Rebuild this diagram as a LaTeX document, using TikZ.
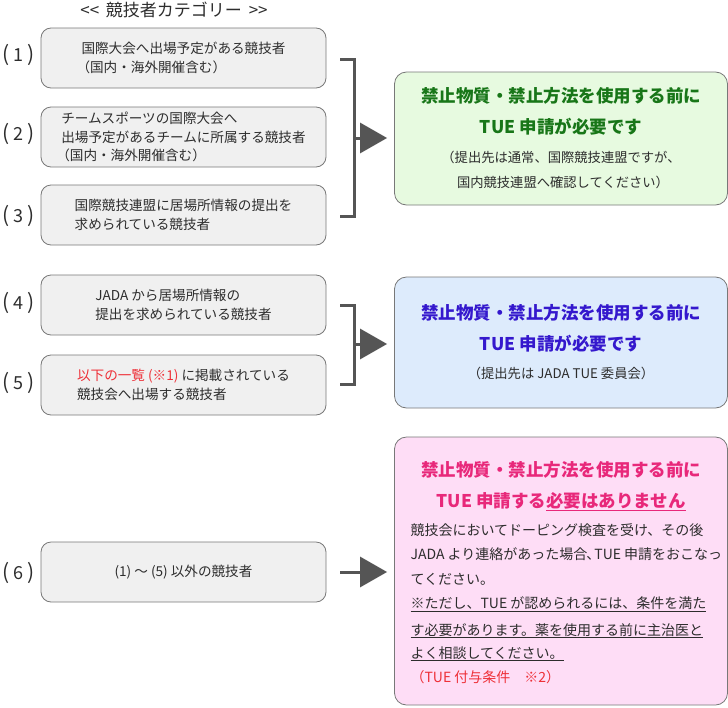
\documentclass[tikz,border=0pt]{standalone}
\usepackage{fontspec}
\newfontfamily\jp{Noto Sans CJK JP}
\usetikzlibrary{arrows.meta}
\definecolor{boxfill}{RGB}{240,240,240}
\definecolor{boxline}{RGB}{120,120,120}
\definecolor{txt}{RGB}{45,45,45}
\definecolor{arr}{RGB}{85,85,85}
\definecolor{gfill}{RGB}{231,250,224}
\definecolor{bfill}{RGB}{221,235,252}
\definecolor{pfill}{RGB}{254,221,246}
\definecolor{gtxt}{RGB}{24,118,24}
\definecolor{btxt}{RGB}{52,24,205}
\definecolor{ptxt}{RGB}{232,40,122}
\definecolor{redtxt}{RGB}{238,48,56}
\newcommand{\catparen}[1]{{\fontsize{21}{21}\selectfont #1}}
\newcommand{\catnum}[1]{\catparen{(}\kern4pt#1\kern4pt\catparen{)}}
\begin{document}
\begin{tikzpicture}[x=1pt,y=-1pt,
  catbox/.style={draw=boxline, fill=boxfill, rounded corners=10pt, line width=0.8pt,
    minimum width=285pt, minimum height=60pt, inner sep=0pt, align=left, text=txt,
    font=\jp\fontsize{13.6}{18.5}\selectfont},
  catlabel/.style={text=txt, font=\jp\fontsize{18}{20}\selectfont},
  resbox/.style={draw=boxline, rounded corners=12pt, line width=0.8pt,
    minimum width=333pt, inner sep=0pt},
  restitle/.style={font=\jp\bfseries\fontsize{17.5}{20}\selectfont},
  ressub/.style={text=txt, font=\jp\fontsize{13.3}{16}\selectfont},
  body/.style={text=txt, anchor=base west, font=\jp\fontsize{14}{16}\selectfont},
  bracket/.style={draw=arr, line width=3pt},
  bigarrow/.style={draw=arr, line width=3pt, -{Triangle[length=27pt,width=30pt]}}
]
\useasboundingbox (0,0) rectangle (728,707);

% title
\node[text=txt, font=\jp\fontsize{17}{18}\selectfont] (title) at (174,10) {<<\kern3pt{} 競技者カテゴリー \kern3pt>>};

% category boxes
\node[catbox] (b1) at (183.5,58) {国際大会へ出場予定がある競技者\\\kern-5pt（国内・海外開催含む）};
\node[catbox] (b2) at (183.5,137) {チームスポーツの国際大会へ\\出場予定があるチームに所属する競技者\\\kern-5pt（国内・海外開催含む）};
\node[catbox] (b3) at (183.5,215) {国際競技連盟に居場所情報の提出を\\求められている競技者};
\node[catbox] (b4) at (183.5,305) {JADA から居場所情報の\\提出を求められている競技者};
\node[catbox] (b5) at (183.5,385) {\textcolor{redtxt}{以下の一覧 (※1)} に掲載されている\\競技会へ出場する競技者};
\node[catbox] (b6) at (183.5,572) {(1) ～ (5) 以外の競技者};

% labels
\node[catlabel] (l1) at (18.5,55) {\catnum{1}};
\node[catlabel] (l2) at (18.5,134) {\catnum{2}};
\node[catlabel] (l3) at (18.5,216) {\catnum{3}};
\node[catlabel] (l4) at (18.5,303) {\catnum{4}};
\node[catlabel] (l5) at (18.5,383) {\catnum{5}};
\node[catlabel] (l6) at (18.5,573) {\catnum{6}};

% result boxes
\node[resbox, fill=gfill, minimum height=133pt] (g) at (561,138.5) {};
\node[resbox, fill=bfill, minimum height=131pt] (bl) at (561,342.5) {};
\node[resbox, fill=pfill, minimum height=268pt] (p) at (561,571) {};

% green text
\node[restitle, text=gtxt] (g1) at (561,96) {禁止物質・禁止方法を使用する前に};
\node[restitle, text=gtxt] (g2) at (561,126.5) {TUE 申請が必要です};
\node[ressub] (g3) at (561,157) {（提出先は通常、国際競技連盟ですが、};
\node[ressub] (g4) at (563,182) {国内競技連盟へ確認してください）};

% blue text
\node[restitle, text=btxt] (bt1) at (561,312.5) {禁止物質・禁止方法を使用する前に};
\node[restitle, text=btxt] (bt2) at (561,343.5) {TUE 申請が必要です};
\node[ressub] (bt3) at (561,373.5) {（提出先は JADA TUE 委員会）};

% pink text
\node[restitle, text=ptxt] (pt1) at (561,470) {禁止物質・禁止方法を使用する前に};
\node[restitle, text=ptxt, anchor=base] (pt2) at (561,507.5) {TUE 申請する\underline{必要はありません}};
\node[body] (pb1) at (407,535) {競技会においてドーピング検査を受け、その後};
\node[body] (pb2) at (407,559.5) {JADA より連絡があった場合\kern-1pt、\kern-6pt TUE 申請をおこなっ};
\node[body] (pb3) at (407,584) {てください。};
\node[body] (pb4) at (407,608.5) {\underline{※ただし、TUE が認められるには、条件を満た}};
\node[body] (pb5) at (407,635) {\underline{す必要があります。薬を使用する前に主治医と}};
\node[body] (pb6) at (407,658) {\underline{よく相談してください。}};
\node[body, text=redtxt] (pb7) at (407,682) {（TUE 付与条件　※2）};

% brackets and arrows
\coordinate (k1t) at (340,59);
\coordinate (k1b) at (340,216);
\coordinate (k1m) at (354,138);
\draw[bracket] (k1t) -- ++(14,0) |- (k1b);
\draw[bigarrow, shorten >=7pt] (k1m) -- (k1m -| g.west);

\coordinate (k2t) at (340,305);
\coordinate (k2b) at (340,384);
\coordinate (k2m) at (354,344);
\draw[bracket] (k2t) -- ++(14,0) |- (k2b);
\draw[bigarrow, shorten >=7pt] (k2m) -- (k2m -| bl.west);

\coordinate (k3) at (340,572);
\draw[bigarrow, shorten >=7pt] (k3) -- (k3 -| p.west);
\end{tikzpicture}
\end{document}
